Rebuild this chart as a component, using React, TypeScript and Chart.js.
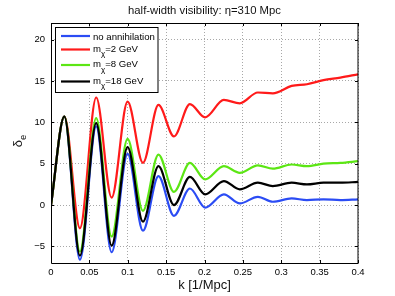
import { useEffect, useRef } from 'react';
import { Chart, registerables } from 'chart.js';

Chart.register(...registerables);

// ---- data ----
const kValues = [0, 0.0174, 0.0377, 0.0589, 0.079, 0.0998, 0.1198, 0.14, 0.1602, 0.181, 0.2008, 0.2252, 0.246, 0.2695, 0.289, 0.3135, 0.3335, 0.355, 0.377, 0.4];
const noAnnihilation = [0, 10.7, -6.6, 9.5, -5.7, 6.2, -3.1, 3.5, -1.3, 2.0, -0.3, 1.3, 0.2, 1.0, 0.4, 0.8, 0.6, 0.7, 0.6, 0.7];
const mChi2 = [0, 10.7, -2.8, 13.0, 0.9, 12.5, 5.1, 12.1, 8.3, 12.2, 10.6, 12.7, 12.3, 13.6, 13.5, 14.4, 14.6, 15.1, 15.4, 15.8];
const mChi8 = [0, 10.7, -5.6, 10.5, -3.8, 8.0, -0.7, 6.1, 1.6, 5.1, 3.1, 4.7, 3.9, 4.8, 4.4, 4.9, 4.7, 5.0, 5.1, 5.3];
const mChi18 = [0, 10.7, -6.1, 9.9, -4.9, 7.0, -2.0, 4.7, 0.0, 3.4, 1.3, 2.9, 1.9, 2.7, 2.3, 2.7, 2.5, 2.7, 2.7, 2.8];

const seriesLabels = ['no annihilation', 'm_{χ}=2 GeV', 'm_{χ}=8 GeV', 'm_{χ}=18 GeV'];
const seriesColors = ['#2b4cf4', '#ff1a1a', '#5ce614', '#000000'];
const seriesValues = [noAnnihilation, mChi2, mChi8, mChi18];

const xTicks = [0, 0.05, 0.1, 0.15, 0.2, 0.25, 0.3, 0.35, 0.4];
const yTicks = [-5, 0, 5, 10, 15, 20];
const xRange = [0, 0.4];
const yRange = [-7, 22];

const titleText = 'half-width visibility: η=310 Mpc';
const xTitle = 'k [1/Mpc]';
const yTitleMain = 'δ';
const yTitleSub = 'e';

const FONT = '"Liberation Sans", Arial, Helvetica, sans-serif';

function parseRich(s: string): { t: string; sub: boolean }[] {
  const out: { t: string; sub: boolean }[] = [];
  const re = /_\{([^}]*)\}/g;
  let last = 0;
  let m: RegExpExecArray | null;
  while ((m = re.exec(s))) {
    if (m.index > last) out.push({ t: s.slice(last, m.index), sub: false });
    out.push({ t: m[1], sub: true });
    last = m.index + m[0].length;
  }
  if (last < s.length) out.push({ t: s.slice(last), sub: false });
  return out;
}

function drawRich(ctx: CanvasRenderingContext2D, s: string, x: number, y: number, size: number, subSize: number, subDrop: number) {
  let cx = x;
  for (const p of parseRich(s)) {
    ctx.font = `${p.sub ? subSize : size}px ${FONT}`;
    ctx.fillText(p.t, cx, p.sub ? y + subDrop : y);
    cx += ctx.measureText(p.t).width;
  }
}

const decorPlugin = {
  id: 'decor',
  afterDraw(chart: any) {
    const ctx: CanvasRenderingContext2D = chart.ctx;
    const a = chart.chartArea;
    const xs = chart.scales.x;
    const ys = chart.scales.y;
    ctx.save();
    ctx.fillStyle = '#000';
    ctx.strokeStyle = '#000';

    // axes box
    ctx.lineWidth = 1;
    ctx.beginPath();
    ctx.moveTo(a.left + 0.5, a.top + 0.5);
    ctx.lineTo(a.right, a.top + 0.5);
    ctx.moveTo(a.left + 0.5, a.top);
    ctx.lineTo(a.left + 0.5, a.bottom + 0.5);
    ctx.lineTo(a.right, a.bottom + 0.5);
    ctx.stroke();
    ctx.beginPath();
    ctx.moveTo(a.right, a.top);
    ctx.lineTo(a.right, a.bottom + 1);
    ctx.stroke();

    // tick marks (inward)
    const tl = 3;
    ctx.beginPath();
    for (const v of xTicks) {
      const px = Math.round(xs.getPixelForValue(v)) + 0.5;
      ctx.moveTo(px, a.bottom);
      ctx.lineTo(px, a.bottom - tl);
      ctx.moveTo(px, a.top);
      ctx.lineTo(px, a.top + tl);
    }
    for (const v of yTicks) {
      const py = Math.round(ys.getPixelForValue(v)) + 0.5;
      ctx.moveTo(a.left, py);
      ctx.lineTo(a.left + tl, py);
      ctx.moveTo(a.right, py);
      ctx.lineTo(a.right - tl, py);
    }
    ctx.stroke();

    // title
    ctx.textAlign = 'center';
    ctx.textBaseline = 'middle';
    ctx.font = `11.3px ${FONT}`;
    ctx.fillStyle = '#111';
    ctx.fillText(titleText, (a.left + a.right) / 2, 11);

    // x title
    ctx.font = `13px ${FONT}`;
    ctx.fillText(xTitle, (a.left + a.right) / 2, 285);

    // y title rotated with subscript
    ctx.save();
    ctx.translate(18, 141);
    ctx.rotate(-Math.PI / 2);
    ctx.textAlign = 'left';
    ctx.textBaseline = 'alphabetic';
    ctx.font = `13px ${FONT}`;
    const w1 = ctx.measureText(yTitleMain).width;
    ctx.font = `9.5px ${FONT}`;
    const w2 = ctx.measureText(yTitleSub).width;
    const start = -(w1 + w2) / 2;
    ctx.font = `13px ${FONT}`;
    ctx.fillText(yTitleMain, start, 4);
    ctx.font = `9.5px ${FONT}`;
    ctx.fillText(yTitleSub, start + w1, 8);
    ctx.restore();

    // legend
    const bx = 55.5, by = 27.5, bw = 102.5, bh = 65;
    ctx.fillStyle = '#fff';
    ctx.fillRect(bx, by, bw, bh);
    ctx.strokeStyle = '#000';
    ctx.lineWidth = 1;
    ctx.strokeRect(bx, by, bw, bh);
    const rowY = [36, 49.5, 65, 81.5];
    ctx.textAlign = 'left';
    ctx.textBaseline = 'alphabetic';
    seriesLabels.forEach((lab, i) => {
      const y = rowY[i];
      ctx.strokeStyle = seriesColors[i];
      ctx.lineWidth = 2.2;
      ctx.beginPath();
      ctx.moveTo(61, y);
      ctx.lineTo(90, y);
      ctx.stroke();
      ctx.fillStyle = '#000';
      const hasSub = lab.includes('_{');
      drawRich(ctx, lab, 93, y + (hasSub ? 2 : 3.5), 9.6, 8, 4.5);
    });

    ctx.restore();
  },
};

export default function App() {
  const ref = useRef<HTMLCanvasElement | null>(null);

  useEffect(() => {
    if (!ref.current) return;
    const orders = [4, 3, 2, 1];
    const chart = new Chart(ref.current, {
      type: 'line',
      data: {
        datasets: seriesValues.map((vals, i) => ({
          label: seriesLabels[i].replace(/_\{([^}]*)\}/g, '$1'),
          data: kValues.map((k, j) => ({ x: k, y: vals[j] })),
          borderColor: seriesColors[i],
          backgroundColor: seriesColors[i],
          borderWidth: 2.2,
          pointRadius: 0,
          cubicInterpolationMode: 'monotone' as const,
          fill: false,
          order: orders[i],
        })),
      },
      options: {
        animation: false,
        responsive: false,
        devicePixelRatio: 1,
        layout: { padding: { top: 23, right: 37, left: 0, bottom: 0 } },
        plugins: {
          legend: { display: false },
          title: { display: false },
          tooltip: { enabled: false },
        },
        scales: {
          x: {
            type: 'linear',
            min: xRange[0],
            max: xRange[1],
            afterFit: (s: any) => { s.height = 33; },
            afterBuildTicks: (s: any) => { s.ticks = xTicks.map((v) => ({ value: v })); },
            ticks: {
              font: { family: FONT, size: 9.5 },
              color: '#000',
              padding: 4,
              maxRotation: 0,
              autoSkip: false,
              callback: (v: any) => String(Number(Number(v).toFixed(2))),
            },
            grid: { color: '#a8a8a8', drawTicks: false, lineWidth: 1 },
            border: { display: false, dash: [1, 2] },
          },
          y: {
            type: 'linear',
            min: yRange[0],
            max: yRange[1],
            afterFit: (s: any) => { s.width = 51; },
            afterBuildTicks: (s: any) => { s.ticks = yTicks.map((v) => ({ value: v })); },
            ticks: {
              font: { family: FONT, size: 9.5 },
              color: '#000',
              padding: 6,
              callback: (v: any) => (Number(v) < 0 ? '\u2212' + Math.abs(Number(v)) : String(v)),
            },
            grid: { color: '#a8a8a8', drawTicks: false, lineWidth: 1 },
            border: { display: false, dash: [1, 2] },
          },
        },
      },
      plugins: [decorPlugin],
    } as any);
    return () => chart.destroy();
  }, []);

  return (
    <div style={{ position: 'fixed', left: 0, top: 0, width: 395, height: 296, background: '#fff' }}>
      <canvas ref={ref} width={395} height={296} style={{ width: 395, height: 296, display: 'block' }} />
    </div>
  );
}
